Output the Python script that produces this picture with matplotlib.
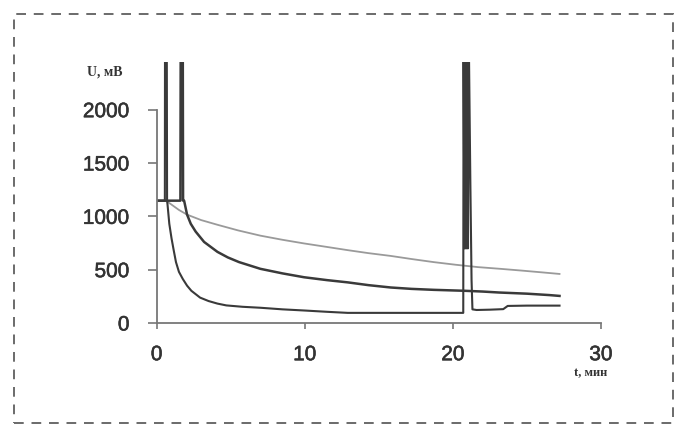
import numpy as np
import matplotlib
matplotlib.use("Agg")
import matplotlib.pyplot as plt
import matplotlib.patheffects as pe
from matplotlib.patches import Rectangle

# time, min
t_slow = [0, 0.55, 0.67, 1.0, 1.5, 2.05, 3.0, 4.1, 5.5, 7.0, 8.5, 9.95, 11.5,
          12.9, 14.3, 15.8, 17.2, 18.7, 20.2, 21.7, 23.2, 24.6, 26.0, 27.2]
u_slow = [1147, 1147, 1143, 1110, 1060, 1016, 965, 921, 868, 819, 780, 746, 713,
          683, 655, 629, 600, 571, 546, 524, 508, 492, 475, 460]

t_mid = [0, 1.6, 1.62, 1.76, 1.78, 1.85, 2.05, 2.3, 2.63, 3.2, 4.1, 4.8, 5.56,
         7.0, 8.5, 9.95, 11.5, 12.9, 14.3, 15.8, 17.2, 18.7, 20.8, 22.0, 23.1,
         25.0, 26.5, 27.2]
u_mid = [1147, 1147, 2600, 2600, 1147, 1147, 1016, 930, 857, 760, 667, 615, 571,
         508, 465, 429, 402, 381, 355, 333, 320, 311, 302, 295, 286,
         275, 262, 254]

t_fast = [0, 0.55, 0.56, 0.68, 0.7, 0.73, 0.85, 1.0, 1.15, 1.3, 1.5, 1.76, 2.05,
          2.34, 2.93, 3.5, 4.1, 4.7, 5.8, 7.0, 8.5, 10.0, 11.5, 12.9, 15.0,
          18.0, 20.7, 20.72, 20.78, 20.82, 20.86, 20.9, 20.94, 20.98, 21.02,
          21.06, 21.08, 21.18, 21.26, 21.32, 21.6, 22.5, 23.4, 23.7, 25.0, 27.2]
u_fast = [1147, 1147, 2600, 2600, 1147, 1111, 930, 794, 680, 571, 480, 413, 350,
          302, 238, 206, 182, 165, 152, 143, 128, 117, 105, 95, 95,
          95, 95, 2600, 700, 2600, 700, 2600, 700, 2600, 700,
          2600, 2600, 1300, 400, 128, 122, 125, 130, 160, 163, 163]

x_ticks = [0, 10, 20, 30]
y_ticks = [0, 500, 1000, 1500, 2000]

ink = "#333333"
bold_fx = [pe.withStroke(linewidth=0.4, foreground=ink)]

fig = plt.figure(figsize=(6.79, 4.27), dpi=100)
ax = fig.add_axes([0.2308, 0.2412, 0.6543, 0.612])

ax.plot(t_slow, u_slow, color="#9a9a9a", lw=1.3)
ax.plot(t_mid, u_mid, color="#3a3a3a", lw=1.8)
ax.plot(t_fast, u_fast, color="#3a3a3a", lw=1.5)

ax.set_xlim(0, 30)
ax.set_ylim(0, 2450)
ax.set_xticks(x_ticks)
ax.set_yticks(y_ticks)

for s in ["top", "right"]:
    ax.spines[s].set_visible(False)
ax.spines["left"].set_bounds(0, 2000)
ax.spines["bottom"].set_bounds(0, 30)
for s in ["left", "bottom"]:
    ax.spines[s].set_color("#777777")
    ax.spines[s].set_linewidth(1.3)

ax.tick_params(axis="y", direction="out", length=6.5, width=1.2,
               color="#777777", pad=13)
ax.tick_params(axis="x", direction="out", length=4, width=1.2,
               color="#777777", pad=12)
for lab in ax.get_xticklabels() + ax.get_yticklabels():
    lab.set_fontfamily("Liberation Sans")
    lab.set_fontsize(15)
    lab.set_color(ink)
    lab.set_path_effects(bold_fx)

fig.text(0.155, 0.831, "U, мВ", family="Liberation Serif", fontsize=10,
         fontweight="bold", color=ink, ha="center", va="center")
fig.text(0.870, 0.126, "t, мин", family="Liberation Serif", fontsize=9,
         fontweight="bold", color=ink, ha="center", va="center")

# dashed frame around the figure
fig.patches.append(Rectangle((14 / 679, 3 / 427), 659 / 679, 409 / 427,
                             transform=fig.transFigure, fill=False,
                             ls=(0, (5, 4)), lw=1.4, ec="#6a6a6a"))

fig.savefig("out.png", dpi=100)
